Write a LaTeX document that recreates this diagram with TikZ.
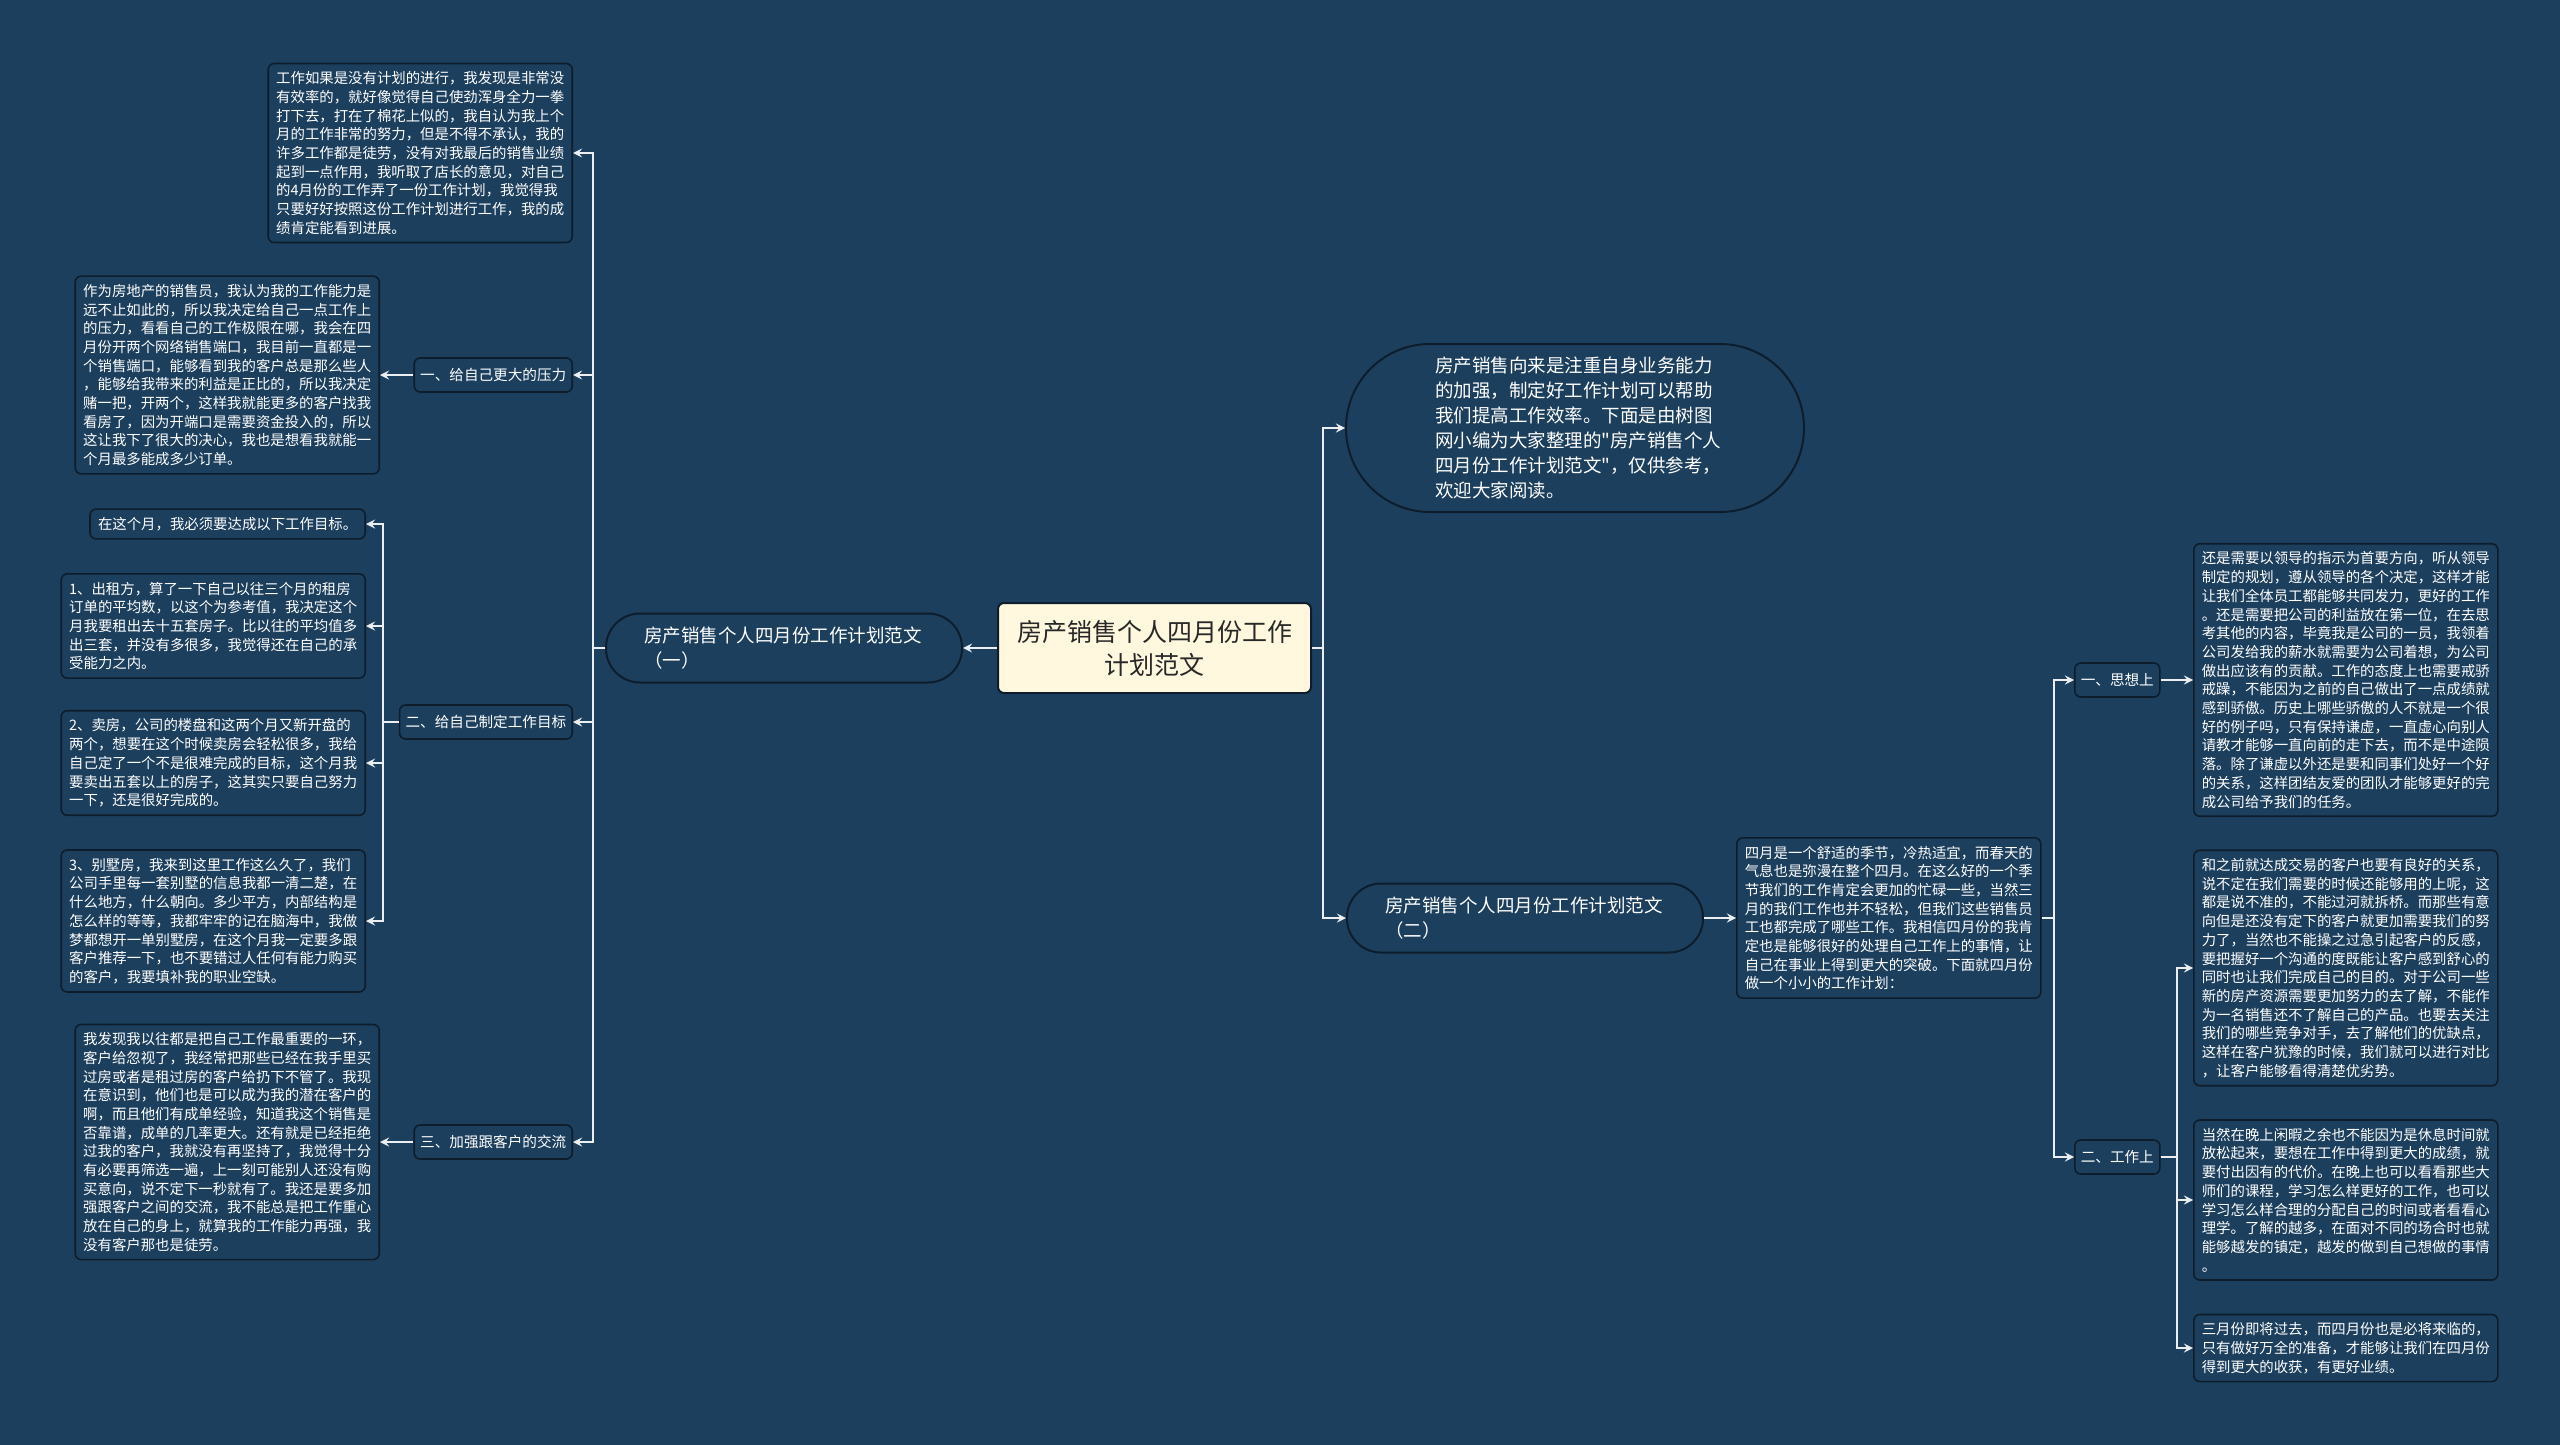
\documentclass[tikz,border=0pt]{standalone}
\usepackage{fontspec}
\setmainfont{Noto Sans CJK SC}[Ligatures=TeXOff]
\usepackage{xcolor}
\usepackage{tikz}
\usetikzlibrary{arrows}
\definecolor{backdrop}{RGB}{28,63,94}
\definecolor{edge}{RGB}{13,29,43}
\definecolor{linkcol}{RGB}{236,239,242}
\definecolor{rootfill}{RGB}{255,248,222}
\definecolor{roottext}{RGB}{40,40,40}

\begin{document}
\begin{tikzpicture}[x=0.5pt, y=-0.5pt,
    card/.style={draw=edge, line width=0.8pt, fill=backdrop, rounded corners=3pt, text=white, align=left, inner xsep=4pt, inner ysep=4pt, font=\fontsize{7.2}{9.35}\selectfont},
    tag/.style={draw=edge, line width=0.8pt, fill=backdrop, rounded corners=3pt, text=white, inner xsep=3pt, minimum height=17pt, font=\fontsize{7.3}{9}\selectfont},
    pill/.style={draw=edge, line width=1pt, fill=backdrop, text=white, align=left, text width=140pt, minimum width=178pt, minimum height=34.5pt, rounded corners=17pt, font=\fontsize{9.25}{12.5}\selectfont},
    link/.style={draw=linkcol, line width=1pt, -stealth}]
    \fill[backdrop] (0,0) rectangle (2560,1445);
    \useasboundingbox (0,0) rectangle (2560,1445);

    \node[draw=edge, line width=1pt, fill=rootfill, text=roottext, rounded corners=3pt, align=center, text width=140pt, minimum width=156.5pt, minimum height=45pt, font=\fontsize{12.5}{16.5}\selectfont] (root) at (1154.5,648) {房产销售个人四月份工作\\计划范文};

    \node[pill, anchor=east] (partone) at (963,648) {房产销售个人四月份工作计划范文\\（一）};
    \node[pill, anchor=west] (parttwo) at (1346,918) {房产销售个人四月份工作计划范文\\（二）};
    \node[pill, anchor=west, minimum width=229pt, minimum height=84pt, rounded corners=42pt] (intro) at (1345,428) {房产销售向来是注重自身业务能力\\
        的加强，制定好工作计划可以帮助\\
        我们提高工作效率。下面是由树图\\
        网小编为大家整理的"房产销售个人\\
        四月份工作计划范文"，仅供参考，\\
        欢迎大家阅读。};

    \node[card, anchor=east] (plannote) at (573,153) {工作如果是没有计划的进行，我发现是非常没\\
        有效率的，就好像觉得自己使劲浑身全力一拳\\
        打下去，打在了棉花上似的，我自认为我上个\\
        月的工作非常的努力，但是不得不承认，我的\\
        许多工作都是徒劳，没有对我最后的销售业绩\\
        起到一点作用，我听取了店长的意见，对自己\\
        的4月份的工作弄了一份工作计划，我觉得我\\
        只要好好按照这份工作计划进行工作，我的成\\
        绩肯定能看到进展。};
    \node[tag, anchor=east] (pressure) at (573,375) {一、给自己更大的压力};
    \node[tag, anchor=east] (goals) at (573,722) {二、给自己制定工作目标};
    \node[tag, anchor=east] (contact) at (573,1142) {三、加强跟客户的交流};

    \node[card, anchor=east] (pressurenote) at (380,375) {作为房地产的销售员，我认为我的工作能力是\\
        远不止如此的，所以我决定给自己一点工作上\\
        的压力，看看自己的工作极限在哪，我会在四\\
        月份开两个网络销售端口，我目前一直都是一\\
        个销售端口，能够看到我的客户总是那么些人\\
        ，能够给我带来的利益是正比的，所以我决定\\
        赌一把，开两个，这样我就能更多的客户找我\\
        看房了，因为开端口是需要资金投入的，所以\\
        这让我下了很大的决心，我也是想看我就能一\\
        个月最多能成多少订单。};

    \node[card, anchor=east] (goalintro) at (366,524) {在这个月，我必须要达成以下工作目标。};
    \node[card, anchor=east] (goalrent) at (366,626) {1、出租方，算了一下自己以往三个月的租房\\
        订单的平均数，以这个为参考值，我决定这个\\
        月我要租出去十五套房子。比以往的平均值多\\
        出三套，并没有多很多，我觉得还在自己的承\\
        受能力之内。};
    \node[card, anchor=east] (goalsell) at (366,763) {2、卖房，公司的楼盘和这两个月又新开盘的\\
        两个，想要在这个时候卖房会轻松很多，我给\\
        自己定了一个不是很难完成的目标，这个月我\\
        要卖出五套以上的房子，这其实只要自己努力\\
        一下，还是很好完成的。};
    \node[card, anchor=east] (goalvilla) at (366,921) {3、别墅房，我来到这里工作这么久了，我们\\
        公司手里每一套别墅的信息我都一清二楚，在\\
        什么地方，什么朝向。多少平方，内部结构是\\
        怎么样的等等，我都牢牢的记在脑海中，我做\\
        梦都想开一单别墅房，在这个月我一定要多跟\\
        客户推荐一下，也不要错过人任何有能力购买\\
        的客户，我要填补我的职业空缺。};

    \node[card, anchor=east] (contactnote) at (380,1142) {我发现我以往都是把自己工作最重要的一环，\\
        客户给忽视了，我经常把那些已经在我手里买\\
        过房或者是租过房的客户给扔下不管了。我现\\
        在意识到，他们也是可以成为我的潜在客户的\\
        啊，而且他们有成单经验，知道我这个销售是\\
        否靠谱，成单的几率更大。还有就是已经拒绝\\
        过我的客户，我就没有再坚持了，我觉得十分\\
        有必要再筛选一遍，上一刻可能别人还没有购\\
        买意向，说不定下一秒就有了。我还是要多加\\
        强跟客户之间的交流，我不能总是把工作重心\\
        放在自己的身上，就算我的工作能力再强，我\\
        没有客户那也是徒劳。};

    \node[card, anchor=west] (springnote) at (1736,918) {四月是一个舒适的季节，冷热适宜，而春天的\\
        气息也是弥漫在整个四月。在这么好的一个季\\
        节我们的工作肯定会更加的忙碌一些，当然三\\
        月的我们工作也并不轻松，但我们这些销售员\\
        工也都完成了哪些工作。我相信四月份的我肯\\
        定也是能够很好的处理自己工作上的事情，让\\
        自己在事业上得到更大的突破。下面就四月份\\
        做一个小小的工作计划：};
    \node[tag, anchor=west] (mindset) at (2074,680) {一、思想上};
    \node[tag, anchor=west] (work) at (2074,1157) {二、工作上};

    \node[card, anchor=west] (mindsetnote) at (2193,680) {还是需要以领导的指示为首要方向，听从领导\\
        制定的规划，遵从领导的各个决定，这样才能\\
        让我们全体员工都能够共同发力，更好的工作\\
        。还是需要把公司的利益放在第一位，在去思\\
        考其他的内容，毕竟我是公司的一员，我领着\\
        公司发给我的薪水就需要为公司着想，为公司\\
        做出应该有的贡献。工作的态度上也需要戒骄\\
        戒躁，不能因为之前的自己做出了一点成绩就\\
        感到骄傲。历史上哪些骄傲的人不就是一个很\\
        好的例子吗，只有保持谦虚，一直虚心向别人\\
        请教才能够一直向前的走下去，而不是中途陨\\
        落。除了谦虚以外还是要和同事们处好一个好\\
        的关系，这样团结友爱的团队才能够更好的完\\
        成公司给予我们的任务。};
    \node[card, anchor=west] (worknote) at (2193,968) {和之前就达成交易的客户也要有良好的关系，\\
        说不定在我们需要的时候还能够用的上呢，这\\
        都是说不准的，不能过河就拆桥。而那些有意\\
        向但是还没有定下的客户就更加需要我们的努\\
        力了，当然也不能操之过急引起客户的反感，\\
        要把握好一个沟通的度既能让客户感到舒心的\\
        同时也让我们完成自己的目的。对于公司一些\\
        新的房产资源需要更加努力的去了解，不能作\\
        为一名销售还不了解自己的产品。也要去关注\\
        我们的哪些竞争对手，去了解他们的优缺点，\\
        这样在客户犹豫的时候，我们就可以进行对比\\
        ，让客户能够看得清楚优劣势。};
    \node[card, anchor=west] (studynote) at (2193,1200) {当然在晚上闲暇之余也不能因为是休息时间就\\
        放松起来，要想在工作中得到更大的成绩，就\\
        要付出因有的代价。在晚上也可以看看那些大\\
        师们的课程，学习怎么样更好的工作，也可以\\
        学习怎么样合理的分配自己的时间或者看看心\\
        理学。了解的越多，在面对不同的场合时也就\\
        能够越发的镇定，越发的做到自己想做的事情\\
        。};
    \node[card, anchor=west] (closenote) at (2193,1348) {三月份即将过去，而四月份也是必将来临的，\\
        只有做好万全的准备，才能够让我们在四月份\\
        得到更大的收获，有更好业绩。};

    \coordinate (lefttrunk) at (593,648);
    \coordinate (goaltrunk) at (383,722);
    \coordinate (righttrunk) at (1323,648);
    \coordinate (springtrunk) at (2054,918);
    \coordinate (worktrunk) at (2177,1157);

    \draw[link] (root.west) -- (partone.east);
    \foreach \n in {plannote, pressure, goals, contact}
        \draw[link] (partone.west) -- (lefttrunk) |- (\n.east);
    \draw[link] (pressure.west) -- (pressurenote.east);
    \foreach \n in {goalintro, goalrent, goalsell, goalvilla}
        \draw[link] (goals.west) -- (goaltrunk) |- (\n.east);
    \draw[link] (contact.west) -- (contactnote.east);

    \foreach \n in {intro, parttwo}
        \draw[link] (root.east) -- (righttrunk) |- (\n.west);
    \draw[link] (parttwo.east) -- (springnote.west);
    \foreach \n in {mindset, work}
        \draw[link] (springnote.east) -- (springtrunk) |- (\n.west);
    \draw[link] (mindset.east) -- (mindsetnote.west);
    \foreach \n in {worknote, studynote, closenote}
        \draw[link] (work.east) -- (worktrunk) |- (\n.west);
\end{tikzpicture}
\end{document}
